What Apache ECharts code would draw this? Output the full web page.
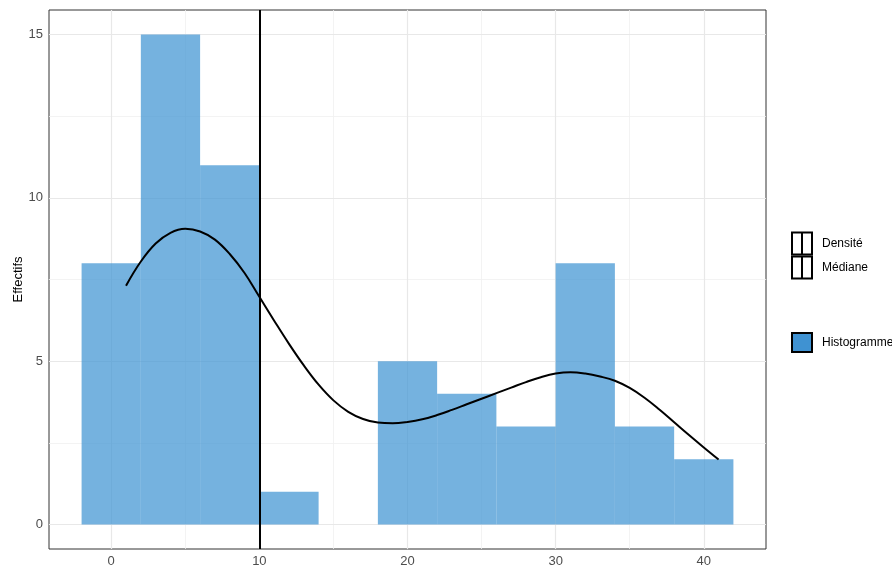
<!DOCTYPE html>
<html>
<head>
<meta charset="utf-8">
<script src="https://cdn.jsdelivr.net/npm/echarts@6/dist/echarts.min.js"></script>
<style>
  html, body { margin: 0; padding: 0; background: #ffffff; }
  #chart { width: 892px; height: 568px; }
</style>
</head>
<body>
<div id="chart"></div>
<script>
// Histogram bins (width 4) and their counts
const binStart = [-2, 2, 6, 10, 14, 18, 22, 26, 30, 34, 38];
const binEnd   = [ 2, 6, 10, 14, 18, 22, 26, 30, 34, 38, 42];
const counts   = [ 8, 15, 11, 1, 0, 5, 4, 3, 8, 3, 2];

// Kernel density, scaled to counts
const densX = [1, 2, 3, 4, 5, 6, 7, 8, 9, 10, 11, 12, 13, 14, 15, 16, 17, 18, 19, 20, 21,
               22, 23, 24, 25, 26, 27, 28, 29, 30, 31, 32, 33, 34, 35, 36, 37, 38, 39, 40, 41];
const densY = [7.31, 8.05, 8.6, 8.93, 9.05, 8.97, 8.72, 8.28, 7.7, 6.97, 6.24, 5.53, 4.87, 4.28,
               3.80, 3.45, 3.23, 3.12, 3.10, 3.14, 3.22, 3.35, 3.51, 3.68, 3.85, 4.02, 4.19, 4.36,
               4.51, 4.62, 4.66, 4.62, 4.53, 4.40, 4.18, 3.88, 3.52, 3.13, 2.74, 2.36, 1.99];

const median = 10;

// Axis breaks
const xTicks = [0, 10, 20, 30, 40];
const xMinor = [5, 15, 25, 35];
const yTicks = [0, 5, 10, 15];
const yMinor = [2.5, 7.5, 12.5];

const xRange = [-4.2, 44.2];
const yRange = [-0.75, 15.75];

const chart = echarts.init(document.getElementById('chart'), null, { renderer: 'canvas' });

function gridLines(name, xs, ys, color, width) {
  return {
    name: name,
    type: 'line',
    data: [],
    silent: true,
    markLine: {
      silent: true,
      z: 1,
      symbol: ['none', 'none'],
      label: { show: false },
      emphasis: { disabled: true },
      lineStyle: { type: 'solid', color: color, width: width },
      data: xs.map(v => ({ xAxis: v })).concat(ys.map(v => ({ yAxis: v })))
    }
  };
}

const option = {
  animation: false,
  backgroundColor: '#ffffff',
  textStyle: { fontFamily: 'Liberation Sans, Arial, sans-serif' },
  grid: {
    left: 49, right: 126, top: 10, bottom: 19,
    outerBoundsMode: 'none',
    containLabel: false,
    show: true, borderColor: '#333333', borderWidth: 1, backgroundColor: 'transparent'
  },
  xAxis: {
    type: 'value',
    min: xRange[0], max: xRange[1],
    splitLine: { show: false },
    axisLine: { show: false },
    axisTick: { show: true, length: 3, lineStyle: { color: '#333333' }, customValues: xTicks },
    axisLabel: { color: '#4d4d4d', fontSize: 13, margin: 6, customValues: xTicks }
  },
  yAxis: {
    type: 'value',
    min: yRange[0], max: yRange[1],
    name: 'Effectifs',
    nameLocation: 'middle',
    nameRotate: 90,
    nameGap: 24,
    nameMoveOverlap: false,
    nameTextStyle: { color: '#000000', fontSize: 13 },
    splitLine: { show: false },
    axisLine: { show: false },
    axisTick: { show: true, length: 3, lineStyle: { color: '#333333' }, customValues: yTicks },
    axisLabel: { color: '#4d4d4d', fontSize: 13, margin: 6, customValues: yTicks }
  },
  legend: [
    {
      data: ['Densité', 'Médiane'],
      orient: 'vertical',
      left: 786, top: 226.5,
      itemWidth: 20, itemHeight: 22, itemGap: 0,
      selectedMode: false,
      icon: 'path://M0,0H20V22H0Z M10,0V22',
      itemStyle: { color: 'transparent', borderColor: '#000000', borderWidth: 2 },
      lineStyle: { width: 0 },
      textStyle: { color: '#000000', fontSize: 12, padding: [0, 0, 0, 5] }
    },
    {
      data: ['Histogramme'],
      orient: 'vertical',
      left: 786, top: 327,
      itemWidth: 20, itemHeight: 19,
      selectedMode: false,
      icon: 'rect',
      itemStyle: { color: '#3f92d2', borderColor: '#000000', borderWidth: 2 },
      textStyle: { color: '#000000', fontSize: 12, padding: [0, 0, 0, 5] }
    }
  ],
  series: [
    gridLines('gridMinor', xMinor, yMinor, '#f0f0f0', 0.8),
    gridLines('gridMajor', xTicks, yTicks, '#e8e8e8', 1.2),
    {
      name: 'Histogramme',
      type: 'custom',
      z: 3,
      data: counts.map((c, i) => [binStart[i], binEnd[i], c]),
      encode: { x: [0, 1], y: 2 },
      itemStyle: { color: 'rgba(64,148,211,0.72)' },
      renderItem: function (params, api) {
        const topLeft = api.coord([api.value(0), api.value(2)]);
        const bottomRight = api.coord([api.value(1), 0]);
        return {
          type: 'rect',
          shape: {
            x: topLeft[0], y: topLeft[1],
            width: bottomRight[0] - topLeft[0],
            height: bottomRight[1] - topLeft[1]
          },
          style: { fill: 'rgba(64,148,211,0.72)' }
        };
      }
    },
    {
      name: 'Densité',
      type: 'line',
      z: 4,
      data: densX.map((x, i) => [x, densY[i]]),
      smooth: 0.4,
      showSymbol: false,
      symbol: 'none',
      lineStyle: { color: '#000000', width: 2 },
      itemStyle: { color: '#000000' }
    },
    {
      name: 'Médiane',
      type: 'line',
      data: [],
      itemStyle: { color: '#000000' },
      markLine: {
        silent: true,
        z: 5,
        symbol: ['none', 'none'],
        label: { show: false },
        emphasis: { disabled: true },
        lineStyle: { type: 'solid', color: '#000000', width: 2 },
        data: [{ xAxis: median }]
      }
    }
  ]
};

chart.setOption(option);
</script>
</body>
</html>
